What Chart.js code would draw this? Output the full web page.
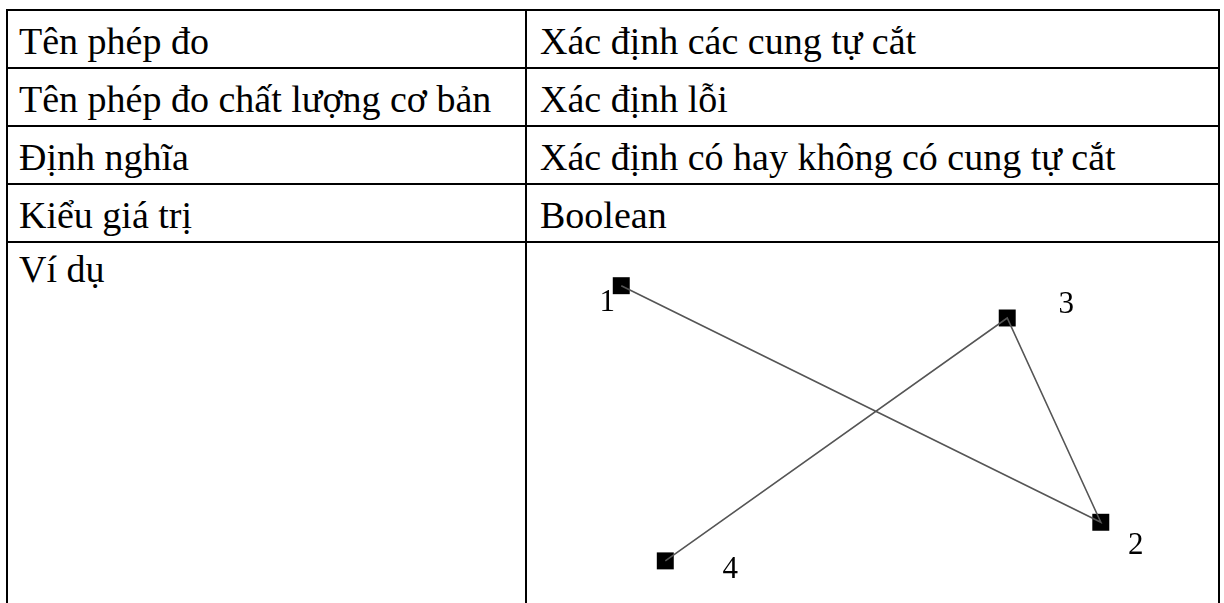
<!DOCTYPE html>
<html>
<head>
<meta charset="utf-8">
<script src="https://cdn.jsdelivr.net/npm/chart.js@4.4.0/dist/chart.umd.min.js"></script>
<style>
  html, body { margin: 0; padding: 0; background: #fff; overflow: hidden; }
  body { width: 1224px; height: 603px; position: relative; font-family: "Liberation Serif", "Times New Roman", serif; }
  table { position: absolute; left: 6px; top: 9px; border-collapse: collapse; table-layout: fixed; }
  td { border: 2px solid #000; font-size: 38px; line-height: 42px; color: #000; height: 52px; padding: 4px 0 0 11px; vertical-align: middle; white-space: nowrap; }
  td.c1 { width: 506px; }
  td.c2 { width: 678px; padding-left: 13px; }
  tr.last td { height: 420px; vertical-align: top; padding-top: 5px; }
  #wrap { position: absolute; left: 527px; top: 252px; width: 688px; height: 351px; }
</style>
</head>
<body>
<table>
  <tr><td class="c1">Tên phép đo</td><td class="c2">Xác định các cung tự cắt</td></tr>
  <tr><td class="c1">Tên phép đo chất lượng cơ bản</td><td class="c2">Xác định lỗi</td></tr>
  <tr><td class="c1">Định nghĩa</td><td class="c2">Xác định có hay không có cung tự cắt</td></tr>
  <tr><td class="c1">Kiểu giá trị</td><td class="c2">Boolean</td></tr>
  <tr class="last"><td class="c1">Ví dụ</td><td class="c2"></td></tr>
</table>
<div id="wrap"><canvas id="arcs" width="688" height="351"></canvas></div>

<script>
// vertices of the polyline, in drawing order 1 -> 2 -> 3 -> 4
var pointNames = ['1', '2', '3', '4'];
var xValues = [13.7, 83.4, 69.8, 20.1];
var yValues = [45.2, 11.5, 40.6, 6.0];

// where each number sits next to its square (px)
var labelOffsets = [[-14, 17], [35, 24], [59, -13], [65, 9]];

var pts = [];
xValues.forEach((x, i) => {
    pts.push({ x: x, y: yValues[i] });
});

var pointNumbers = {
    id: 'pointNumbers',
    afterDatasetsDraw(chart) {
        var ctx = chart.ctx;
        var meta = chart.getDatasetMeta(0);
        ctx.save();
        ctx.fillStyle = '#000';
        ctx.font = '31px "Liberation Serif", serif';
        ctx.textAlign = 'center';
        ctx.textBaseline = 'middle';
        meta.data.forEach((el, i) => {
            ctx.fillText(pointNames[i], el.x + labelOffsets[i][0], el.y + labelOffsets[i][1]);
        });
        ctx.restore();
    }
};

var ctx1 = document.getElementById('arcs');
var arcChart = new Chart(ctx1, {
    type: 'scatter',
    data: {
        datasets: [
            {
                // squares
                data: pts,
                showLine: false,
                pointStyle: 'rect',
                pointRadius: 12,
                pointHoverRadius: 12,
                backgroundColor: '#000',
                borderColor: '#000',
                borderWidth: 0,
                order: 2
            },
            {
                // the arcs, drawn over the squares
                data: pts,
                showLine: true,
                pointRadius: 0,
                borderColor: '#555',
                borderWidth: 1.6,
                fill: false,
                order: 1
            }
        ]
    },
    options: {
        responsive: false,
        animation: false,
        layout: { padding: 0, autoPadding: false },
        plugins: {
            legend: { display: false },
            tooltip: { enabled: false },
            title: { display: false }
        },
        scales: {
            x: { type: 'linear', min: 0, max: 100, display: false },
            y: { type: 'linear', min: 0, max: 50, display: false }
        }
    },
    plugins: [pointNumbers]
});
</script>
</body>
</html>
